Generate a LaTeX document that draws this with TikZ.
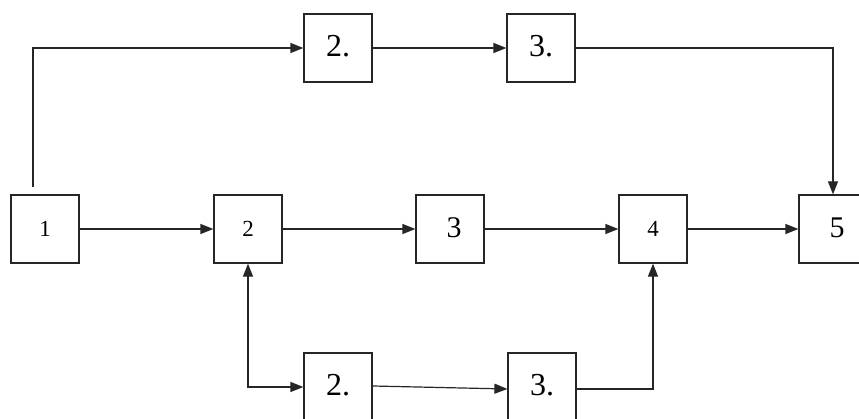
\documentclass[tikz,border=0pt]{standalone}
\usepackage{fontspec}
\setmainfont{Liberation Serif}
\usetikzlibrary{arrows.meta}
\tikzset{
  blk/.style={draw=black!85, line width=1.2pt, minimum width=68pt, minimum height=68pt, inner sep=0pt, fill=white},
  small/.style={font=\fontsize{23}{25}\selectfont},
  mid/.style={font=\fontsize{30}{33}\selectfont},
  big/.style={font=\fontsize{32}{35}\selectfont},
  conn/.style={draw=black!85, line width=1.2pt, -{Triangle[length=13pt,width=10pt]}},
  conn2/.style={draw=black!85, line width=1.2pt, {Triangle[length=13pt,width=10pt]}-{Triangle[length=13pt,width=10pt]}}
}
\begin{document}
\begin{tikzpicture}[x=1pt,y=1pt]
\clip (0,0) rectangle (859,418);
\fill[white] (0,0) rectangle (859,418);
\node[blk,small] (n1) at (45,189) {1};
\node[blk,small] (n2) at (248,189) {2};
\node[blk,mid] (n3) at (450,189) {\hspace{8pt}\raisebox{2pt}{3}};
\node[blk,small] (n4) at (653,189) {4};
\node[blk,mid] (n5) at (833,189) {\hspace{8pt}\raisebox{2pt}{5}};
\node[blk,big] (t2) at (338,370) {\raisebox{4pt}{2.}};
\node[blk,big] (t3) at (541,370) {\raisebox{4pt}{3.}};
\node[blk,big] (b2) at (338,31) {\raisebox{4pt}{2.}};
\node[blk,big] (b3) at (542,31) {\raisebox{4pt}{3.}};
\coordinate (c1) at (33,231);
\draw[conn] (n1) -- (n2);
\draw[conn] (n2) -- (n3);
\draw[conn] (n3) -- (n4);
\draw[conn] (n4) -- (n5);
\draw[conn] (c1) |- (t2.west);
\draw[conn] (t2) -- (t3);
\draw[conn] (t3.east) -| (n5.north);
\draw[conn2] (n2.south) |- (b2.west);
\draw[conn] ([yshift=1pt]b2.east) -- ([yshift=-2pt]b3.west);
\draw[conn] ([yshift=-2pt]b3.east) -| (n4.south);
\end{tikzpicture}
\end{document}
